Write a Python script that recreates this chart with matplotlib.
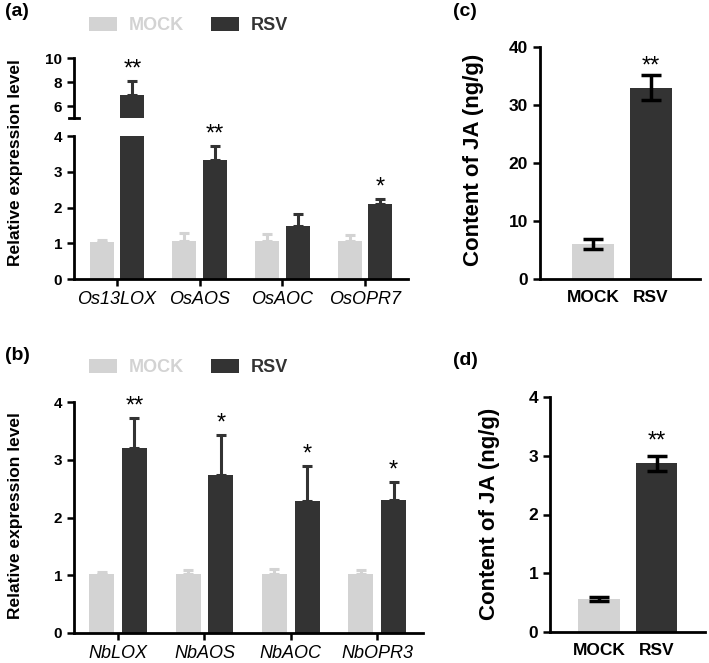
import matplotlib
matplotlib.use("Agg")
import matplotlib.pyplot as plt
import numpy as np

plt.rcParams['font.family'] = ['Liberation Sans', 'DejaVu Sans']

# panel (a) - rice genes
a_genes = ['Os13LOX', 'OsAOS', 'OsAOC', 'OsOPR7']
a_mock = [1.03, 1.05, 1.05, 1.05]
a_mock_err = [0.07, 0.23, 0.20, 0.17]
a_rsv = [6.9, 3.33, 1.49, 2.1]
a_rsv_err = [1.2, 0.39, 0.33, 0.15]
a_sig = ['**', '**', '', '*']

# panel (b) - N. benthamiana genes
b_genes = ['NbLOX', 'NbAOS', 'NbAOC', 'NbOPR3']
b_mock = [1.02, 1.02, 1.02, 1.02]
b_mock_err = [0.03, 0.07, 0.08, 0.07]
b_rsv = [3.2, 2.74, 2.28, 2.30]
b_rsv_err = [0.53, 0.69, 0.61, 0.32]
b_sig = ['**', '*', '*', '*']

# panels (c) and (d) - JA content
ja_groups = ['MOCK', 'RSV']
c_vals = [6.0, 33.0]
c_err = [0.9, 2.2]
d_vals = [0.56, 2.87]
d_err = [0.04, 0.13]

MOCK_C = '#d3d3d3'
RSV_C = '#333333'
W, H = 709, 663


def box(l, t, r, b):
    # pixel box -> figure fraction rect
    return [l / W, 1 - b / H, (r - l) / W, (b - t) / H]


def style(ax, fs=11):
    for s in ['top', 'right']:
        ax.spines[s].set_visible(False)
    for s in ['left', 'bottom']:
        ax.spines[s].set_linewidth(2)
    ax.tick_params(width=1.8, length=5, direction='out', labelsize=fs)
    for lb in ax.get_yticklabels():
        lb.set_fontweight('bold')


def grouped(ax, mock, mock_err, rsv, rsv_err, off=0.185, w=0.29):
    x = np.arange(len(mock))
    ax.bar(x - off, mock, w, color=MOCK_C, label='MOCK')
    ax.bar(x + off, rsv, w, color=RSV_C, label='RSV')
    z = np.zeros(len(mock))
    ax.errorbar(x - off, mock, yerr=[z, mock_err], fmt='none', ecolor=MOCK_C,
                elinewidth=2.2, capsize=3.5, capthick=2.2)
    ax.errorbar(x + off, rsv, yerr=[z, rsv_err], fmt='none', ecolor=RSV_C,
                elinewidth=2.2, capsize=3.5, capthick=2.2)
    return x


def stars(ax, xs, tops, sig, dy=8, fs=17):
    for xx, tt, s in zip(xs, tops, sig):
        if s:
            ax.annotate(s, (xx, tt), xytext=(0, dy), textcoords='offset points',
                        ha='center', va='center', fontsize=fs)


def legend(fig, ax, y_px):
    leg = ax.legend(loc='center left', bbox_to_anchor=(89 / W, 1 - y_px / H),
                    bbox_transform=fig.transFigure, ncol=2, frameon=False,
                    prop={'weight': 'bold', 'size': 13}, handlelength=1.55,
                    handleheight=0.8, handletextpad=0.65, columnspacing=1.5,
                    borderpad=0, borderaxespad=0)
    leg.get_texts()[0].set_color(MOCK_C)
    leg.get_texts()[1].set_color(RSV_C)


fig = plt.figure(figsize=(7.09, 6.63), dpi=100)

# ---- (a) broken axis ----
ax_lo = fig.add_axes(box(74, 136, 408, 279))
ax_hi = fig.add_axes(box(74, 58, 408, 118))
for ax in (ax_lo, ax_hi):
    x = grouped(ax, a_mock, a_mock_err, a_rsv, a_rsv_err)
    ax.set_xlim(-0.52, 3.52)
    style(ax)
ax_lo.set_ylim(0, 4)
ax_lo.set_yticks([0, 1, 2, 3, 4])
ax_hi.set_ylim(5, 10)
ax_hi.set_yticks([6, 8, 10])
for lb in ax_hi.get_yticklabels():
    lb.set_fontweight('bold')
ax_hi.spines['bottom'].set_visible(False)
ax_hi.set_xticks([])
ax_hi.plot([-0.015, 0.015], [0, 0], transform=ax_hi.transAxes, color='black',
           lw=2, clip_on=False)
ax_lo.set_xticks(x)
ax_lo.set_xticklabels(a_genes, fontstyle='italic', fontsize=13)
tops_a = np.array(a_rsv) + np.array(a_rsv_err)
stars(ax_hi, x[:1] + 0.185, tops_a[:1], a_sig[:1])
stars(ax_lo, x[1:] + 0.185, tops_a[1:], a_sig[1:])
legend(fig, ax_lo, 25.5)
fig.text(16 / W, 1 - 163 / H, 'Relative expression level', rotation=90,
         ha='center', va='center', fontsize=12.5, fontweight='bold')
fig.text(5 / W, 1 - 12 / H, '(a)', fontsize=14, fontweight='bold', va='center')

# ---- (b) ----
ax_b = fig.add_axes(box(74, 402, 423, 633))
x = grouped(ax_b, b_mock, b_mock_err, b_rsv, b_rsv_err, off=0.19)
ax_b.set_xlim(-0.51, 3.53)
ax_b.set_ylim(0, 4)
ax_b.set_yticks([0, 1, 2, 3, 4])
style(ax_b)
ax_b.set_xticks(x)
ax_b.set_xticklabels(b_genes, fontstyle='italic', fontsize=13)
stars(ax_b, x + 0.19, np.array(b_rsv) + np.array(b_rsv_err), b_sig)
legend(fig, ax_b, 367.5)
fig.text(16 / W, 1 - 516 / H, 'Relative expression level', rotation=90,
         ha='center', va='center', fontsize=12.5, fontweight='bold')
fig.text(5 / W, 1 - 355 / H, '(b)', fontsize=14, fontweight='bold', va='center')


# ---- (c) and (d) ----
def ja_panel(rect, vals, err, ylim, yticks, xlim, ylab_xy, lab, lab_xy, sdy):
    ax = fig.add_axes(rect)
    xg = np.arange(len(vals))
    ax.bar(xg, vals, 0.72, color=[MOCK_C, RSV_C])
    ax.errorbar(xg, vals, yerr=err, fmt='none', ecolor='black', elinewidth=2.5,
                capsize=7, capthick=2.5)
    ax.set_xlim(*xlim)
    ax.set_ylim(*ylim)
    ax.set_yticks(yticks)
    style(ax, fs=12.5)
    ax.set_xticks(xg)
    ax.set_xticklabels(ja_groups, fontweight='bold', fontsize=12.5)
    ax.tick_params(axis='x', length=0, pad=8)
    stars(ax, [xg[1]], [vals[1] + err[1]], ['**'], dy=sdy)
    fig.text(ylab_xy[0] / W, 1 - ylab_xy[1] / H, 'Content of JA (ng/g)',
             rotation=90, ha='center', va='center', fontsize=16,
             fontweight='bold')
    fig.text(lab_xy[0] / W, 1 - lab_xy[1] / H, lab, fontsize=14,
             fontweight='bold', va='center')
    return ax


ja_panel(box(540, 47, 700, 279), c_vals, c_err, (0, 40), [0, 10, 20, 30, 40],
         (-0.914, 1.845), (474, 160), '(c)', (453, 12), 6)
ja_panel(box(550, 397, 705, 632), d_vals, d_err, (0, 4), [0, 1, 2, 3, 4],
         (-0.852, 1.843), (489, 514), '(d)', (453, 361), 10)

fig.savefig('out.png', dpi=100)
